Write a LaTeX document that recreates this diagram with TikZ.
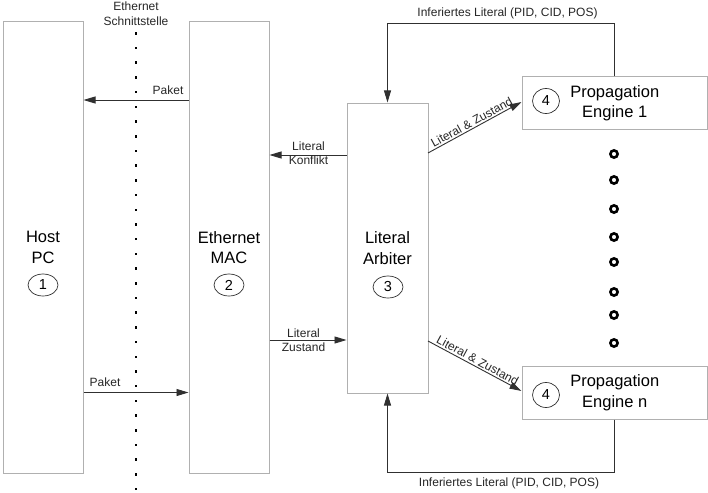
\documentclass[tikz,border=0pt]{standalone}
\usepackage{fontspec}
\setmainfont{Liberation Sans}
\usetikzlibrary{arrows.meta,shapes.geometric}
\definecolor{boxgray}{HTML}{B0B0B0}
\definecolor{linegray}{HTML}{303030}
\begin{document}
\begin{tikzpicture}[x=1pt,y=-1pt,
  block/.style={draw=boxgray,line width=1pt,inner sep=0pt,align=center,
    font=\fontsize{16.5}{20.5}\selectfont},
  num/.style={draw=linegray,line width=0.7pt,ellipse,inner sep=0pt,
    font=\fontsize{14.5}{16}\selectfont},
  lbl/.style={inner sep=1pt,align=center,font=\fontsize{12}{14.5}\selectfont,text=black!85},
  flow/.style={draw=linegray,line width=0.9pt,-{Triangle[length=12pt,width=7pt]}},
  plain/.style={draw=linegray,line width=0.9pt}]
\useasboundingbox (0,0) rectangle (708,492);

% main blocks
\node[block,minimum width=80pt,minimum height=451pt] (host) at (43,247.5) {Host\\PC};
\node[block,minimum width=80pt,minimum height=451pt] (mac) at (229,247.5) {Ethernet\\MAC};
\node[block,minimum width=81pt,minimum height=290pt] (arb) at (387.5,248) {Literal\\Arbiter};
\node[block,minimum width=185.5pt,minimum height=52pt] (e1) at (614.75,103) {Propagation\\Engine 1};
\node[block,minimum width=185.5pt,minimum height=53pt] (en) at (614.75,392.5) {Propagation\\Engine n};

% numbered markers
\node[num,minimum width=30pt,minimum height=22pt] (n1) at (43,285) {1};
\node[num,minimum width=30pt,minimum height=22pt] (n2) at (229,285) {2};
\node[num,minimum width=30pt,minimum height=22pt] (n3) at (388,287) {3};
\node[num,minimum width=27pt,minimum height=25pt] (n4a) at (546,101) {4};
\node[num,minimum width=27pt,minimum height=25pt] (n4b) at (546,395) {4};

% Ethernet interface: dotted separator
\node[lbl] (eth) at (136,13.5) {Ethernet\\Schnittstelle};
\foreach \k in {0,...,31}
  \fill (134.7,{33.3+14.7*\k-1.2}) rectangle ++(2.5,2.5);

% levels of the horizontal connectors
\coordinate (yp1) at (0,100);
\coordinate (yp2) at (0,392.5);
\coordinate (yk) at (0,155);
\coordinate (yz) at (0,340);

% Paket connectors
\draw[flow] (mac.west |- yp1) -- (host.east |- yp1);
\node[lbl] (pk1) at (168,90) {Paket};
\draw[flow] (host.east |- yp2) -- (mac.west |- yp2);
\node[lbl] (pk2) at (105,382) {Paket};

% Arbiter <-> MAC
\draw[flow] (arb.west |- yk) -- (mac.east |- yk);
\node[lbl] (lk) at (308.5,153) {Literal\\Konflikt};
\draw[flow] (mac.east |- yz) -- (arb.west |- yz);
\node[lbl] (lz) at (303.5,340) {Literal\\Zustand};

% Arbiter -> engines
\coordinate (a1) at (428,153);
\coordinate (a2) at (428,341);
\draw[flow] (a1) -- (e1.west |- 0,102)
  node[lbl,midway,above,sloped,inner sep=1.5pt] (lz1) {Literal \& Zustand};
\draw[flow] (a2) -- (en.west |- 0,391)
  node[lbl,midway,above,sloped,inner sep=1.5pt] (lz2) {Literal \& Zustand};

% feedback paths
\coordinate (ft) at (500,23);
\coordinate (fb) at (500,472);
\draw[plain] (e1.north) |- (ft);
\draw[flow] (ft) -| (arb.north);
\node[lbl] (inf1) at (507.5,13) {Inferiertes Literal (PID, CID, POS)};
\draw[plain] (en.south) |- (fb);
\draw[flow] (fb) -| (arb.south);
\node[lbl] (inf2) at (509,483) {Inferiertes Literal (PID, CID, POS)};

% further engines
\foreach \yy in {154,180,209,237,262,292,315,343}
  \draw[line width=2.6pt] (614,\yy) circle (3.6pt);
\end{tikzpicture}
\end{document}
